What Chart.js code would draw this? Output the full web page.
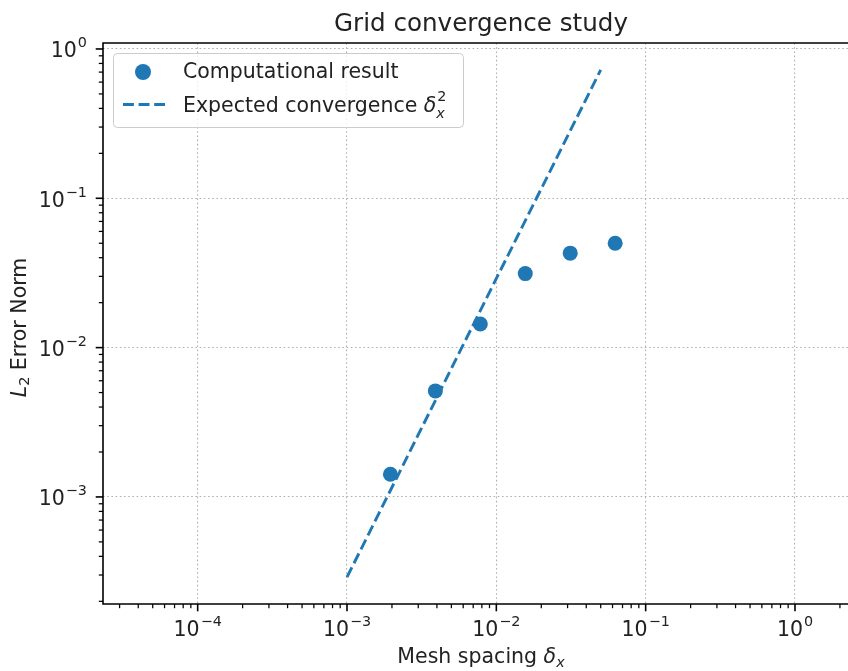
<!DOCTYPE html>
<html>
<head>
<meta charset="utf-8">
<script src="https://cdn.jsdelivr.net/npm/chart.js@4.4.1/dist/chart.umd.min.js"></script>
<style>
  html, body { margin: 0; padding: 0; background: #ffffff; overflow: hidden; }
  canvas { display: block; }
</style>
</head>
<body>
<canvas id="chart" width="848" height="671"></canvas>
<script>
// Mesh spacing and measured L2 error norm
const meshSpacing = [1 / 512, 1 / 256, 1 / 128, 1 / 64, 1 / 32, 1 / 16];
const errorNorm = [1.42e-3, 5.13e-3, 1.44e-2, 3.13e-2, 4.29e-2, 5.0e-2];

// Second-order reference line (endpoints)
const refSpacing = [1e-3, 5e-2];
const refError = [2.9e-4, 0.725];

// Decade exponents labelled on each axis
const xMajorExps = [-4, -3, -2, -1, 0];
const yMajorExps = [-3, -2, -1, 0];

const BLUE = '#1f77b4';
const TEXT = '#222222';
const FONT = '"DejaVu Sans", sans-serif';
const FS = 20.5;          // base font size (px)
const SUP = FS * 0.7;     // script size

function font(size, italic) {
  return (italic ? 'oblique ' : '') + size + 'px ' + FONT;
}

// Draw a row of text runs; each run: {t, size, italic, dy}
function drawRuns(ctx, runs, x, y, align) {
  let total = 0;
  const widths = runs.map(r => {
    ctx.font = font(r.size, r.italic);
    const w = ctx.measureText(r.t).width + (r.pad || 0);
    total += w;
    return w;
  });
  let cx = align === 'center' ? x - total / 2 : align === 'right' ? x - total : x;
  ctx.textAlign = 'left';
  ctx.textBaseline = 'alphabetic';
  runs.forEach((r, i) => {
    ctx.font = font(r.size, r.italic);
    ctx.fillText(r.t, cx + (r.dx || 0), y + (r.dy || 0));
    cx += widths[i];
  });
  return total;
}

function powerLabel(exp) {
  return [
    { t: '10', size: FS },
    { t: (exp < 0 ? '\u2212' : '') + Math.abs(exp), size: SUP, dy: -10, dx: 1, pad: 1 }
  ];
}

const frame = {
  id: 'frame',
  afterDraw(chart) {
    const ctx = chart.ctx;
    const a = chart.chartArea;
    const xs = chart.scales.x, ys = chart.scales.y;
    ctx.save();

    // spines (right side runs off the canvas)
    ctx.strokeStyle = '#000';
    ctx.lineWidth = 1.6;
    ctx.beginPath();
    ctx.moveTo(a.right + 5, a.top); ctx.lineTo(a.left, a.top);
    ctx.lineTo(a.left, a.bottom); ctx.lineTo(a.right + 5, a.bottom);
    ctx.stroke();

    // tick marks
    const tick = (scale, v, len, w, isX) => {
      const p = scale.getPixelForValue(v);
      if (isX ? (p < a.left - 0.5 || p > a.right + 0.5) : (p < a.top - 0.5 || p > a.bottom + 0.5)) return;
      ctx.lineWidth = w;
      ctx.beginPath();
      if (isX) { ctx.moveTo(p, a.bottom); ctx.lineTo(p, a.bottom + len); }
      else { ctx.moveTo(a.left, p); ctx.lineTo(a.left - len, p); }
      ctx.stroke();
    };
    for (let e = -5; e <= 1; e++) {
      for (let m = 2; m <= 9; m++) {
        tick(xs, m * Math.pow(10, e), 4.2, 1.25, true);
        tick(ys, m * Math.pow(10, e), 4.2, 1.25, false);
      }
    }
    xMajorExps.forEach(e => tick(xs, Math.pow(10, e), 7.3, 1.6, true));
    yMajorExps.forEach(e => tick(ys, Math.pow(10, e), 7.3, 1.6, false));

    // tick labels
    ctx.fillStyle = TEXT;
    xMajorExps.forEach(e => {
      const p = xs.getPixelForValue(Math.pow(10, e));
      drawRuns(ctx, powerLabel(e), p, a.bottom + 32, 'center');
    });
    yMajorExps.forEach(e => {
      const p = ys.getPixelForValue(Math.pow(10, e));
      drawRuns(ctx, powerLabel(e), a.left - 16, p + 8.5, 'right');
    });

    // title
    drawRuns(ctx, [{ t: 'Grid convergence study', size: FS * 1.2 }], 481, 31, 'center');

    // x axis label
    drawRuns(ctx, [
      { t: 'Mesh spacing ', size: FS },
      { t: '\u03b4', size: FS, italic: true },
      { t: 'x', size: SUP, italic: true, dy: 4 }
    ], 481, 663, 'center');

    // y axis label
    ctx.save();
    ctx.translate(26, (a.top + a.bottom) / 2 + 4);
    ctx.rotate(-Math.PI / 2);
    drawRuns(ctx, [
      { t: 'L', size: FS, italic: true },
      { t: '2', size: SUP, dy: 3 },
      { t: ' Error Norm', size: FS }
    ], 0, 0, 'center');
    ctx.restore();

    // legend
    const lx = 113, ly = 53, lw = 350, lh = 74;
    ctx.beginPath();
    ctx.roundRect(lx + 0.5, ly + 0.5, lw, lh, 4);
    ctx.fillStyle = 'rgba(255,255,255,0.8)';
    ctx.fill();
    ctx.strokeStyle = '#cccccc';
    ctx.lineWidth = 1;
    ctx.stroke();

    ctx.fillStyle = BLUE;
    ctx.beginPath();
    ctx.arc(143, 72, 8, 0, Math.PI * 2);
    ctx.fill();

    ctx.strokeStyle = BLUE;
    ctx.lineWidth = 2.9;
    ctx.setLineDash([10.9, 4.7]);
    ctx.beginPath();
    ctx.moveTo(123, 104.5); ctx.lineTo(165, 104.5);
    ctx.stroke();
    ctx.setLineDash([]);

    ctx.fillStyle = TEXT;
    drawRuns(ctx, [{ t: 'Computational result', size: FS }], 183, 78, 'left');
    const w = drawRuns(ctx, [
      { t: 'Expected convergence ', size: FS },
      { t: '\u03b4', size: FS, italic: true }
    ], 183, 112, 'left');
    ctx.font = font(SUP, true);
    ctx.fillText('x', 183 + w, 118);
    ctx.font = font(SUP, false);
    ctx.fillText('2', 183 + w + 1, 101);

    ctx.restore();
  }
};

const majors = exps => exps.map(e => ({ value: Math.pow(10, e) }));

new Chart(document.getElementById('chart'), {
  type: 'scatter',
  data: {
    datasets: [
      {
        label: 'Computational result',
        data: meshSpacing.map((x, i) => ({ x, y: errorNorm[i] })),
        backgroundColor: BLUE,
        borderWidth: 0,
        pointRadius: 7.5,
        order: 1
      },
      {
        label: 'Expected convergence',
        data: refSpacing.map((x, i) => ({ x, y: refError[i] })),
        showLine: true,
        borderColor: BLUE,
        borderWidth: 2.9,
        borderDash: [10.9, 4.7],
        pointRadius: 0,
        order: 0
      }
    ]
  },
  options: {
    responsive: false,
    devicePixelRatio: 1,
    animation: false,
    events: [],
    // the plot frame continues past the right edge of the canvas
    layout: { autoPadding: false, padding: { left: 103, top: 43, right: 0, bottom: 67 } },
    plugins: { legend: { display: false }, tooltip: { enabled: false }, title: { display: false } },
    scales: {
      x: {
        type: 'logarithmic',
        min: Math.pow(10, -4.634),
        max: Math.pow(10, 0.355),
        afterFit: s => { s.height = 0; },
        afterBuildTicks: s => { s.ticks = majors(xMajorExps); },
        ticks: { display: false },
        border: { display: false, dash: [1.6, 2.6] },
        grid: { color: '#b0b0b0', lineWidth: 1.1, drawTicks: false }
      },
      y: {
        type: 'logarithmic',
        min: Math.pow(10, -3.717),
        max: Math.pow(10, 0.04),
        afterFit: s => { s.width = 0; },
        afterBuildTicks: s => { s.ticks = majors(yMajorExps); },
        ticks: { display: false },
        border: { display: false, dash: [1.6, 2.6] },
        grid: { color: '#b0b0b0', lineWidth: 1.1, drawTicks: false }
      }
    }
  },
  plugins: [frame]
});
</script>
</body>
</html>
